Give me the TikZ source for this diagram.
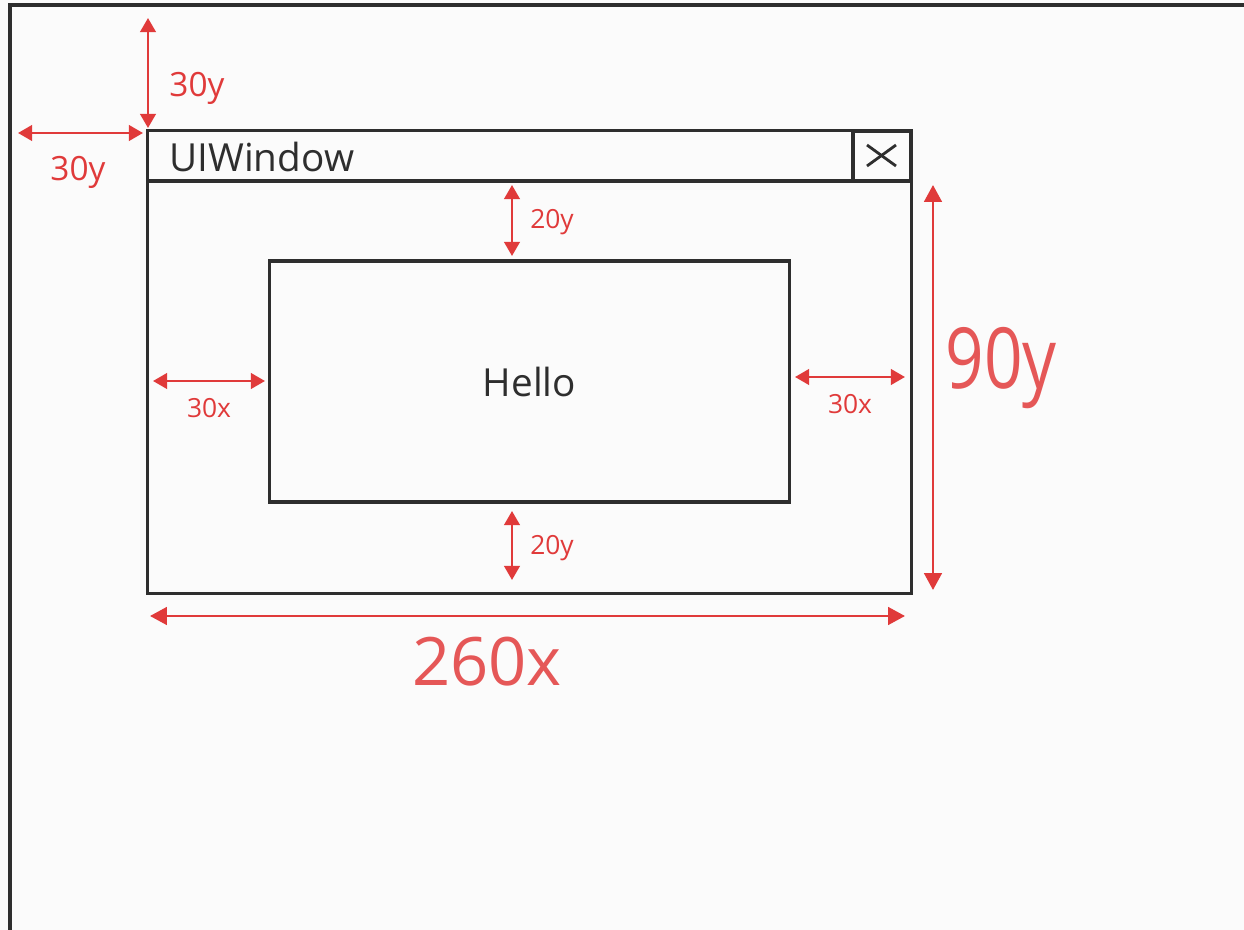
\documentclass[tikz,border=0pt]{standalone}
\usepackage{fontspec}
\setsansfont{Open Sans}
\usetikzlibrary{arrows.meta,positioning}
\definecolor{ink}{HTML}{2E2E2E}
\definecolor{pen}{HTML}{E03A3A}
\definecolor{paper}{HTML}{FBFBFB}
\tikzstyle{box} = [rectangle, draw=ink, line width=0.9pt, inner sep=0pt, outer sep=0pt]
\tikzstyle{dim} = [draw=pen, line width=0.75pt, {Triangle[length=4pt,width=4.4pt]}-{Triangle[length=4pt,width=4.4pt]}]
\tikzstyle{bigdim} = [draw=pen, line width=0.75pt, {Triangle[length=4.8pt,width=5pt]}-{Triangle[length=4.8pt,width=5pt]}]
\tikzstyle{note} = [text=pen, font=\sffamily\fontsize{9.5}{10}\selectfont, inner sep=0pt]
\tikzstyle{small} = [text=pen, font=\sffamily\fontsize{7.5}{8}\selectfont, inner sep=0pt]
\tikzstyle{big} = [text=pen!85, inner sep=0pt]

\begin{document}
\begin{tikzpicture}[x=0.01cm, y=-0.01cm]
  % Paper and its edges
  \fill [paper] (0,0) rectangle (1244,930);
  \useasboundingbox (0,0) rectangle (1244,930);
  \draw [ink, line width=0.9pt] (10,930) -- (10,5) -- (1244,5);

  % Place nodes
  \node [box, minimum width=7.63cm, minimum height=4.62cm] (win) at (529.5,362) {};
  \node [box, minimum width=0.58cm, minimum height=0.5cm] (close) at (882,156) {};
  \node [anchor=west, text=ink, font=\sffamily\fontsize{11}{12}\selectfont] (title) at (157,157) {UIWindow};
  \node [box, minimum width=5.19cm, minimum height=2.41cm,
         font=\sffamily\fontsize{11}{12}\selectfont, text=ink] (hello) at (529.5,381.5) {Hello};
  \coordinate (bar w) at (148,181);
  \coordinate (bar e) at (911,181);

  % Draw edges
  \draw [ink, line width=0.9pt] (bar w) -- (bar e);
  \draw [ink, line width=0.8pt] ([shift={(-15,-11)}]close.center) -- ([shift={(14,10)}]close.center);
  \draw [ink, line width=0.8pt] ([shift={(-15,10)}]close.center) -- ([shift={(14,-11)}]close.center);

  % Dimension ends
  \coordinate (up a) at (148,18);
  \coordinate (up b) at (148,128);
  \coordinate (side a) at (18,133);
  \coordinate (side b) at (143,133);
  \coordinate (gt a) at (512,185);
  \coordinate (gt b) at (512,256);
  \coordinate (gb a) at (512,511);
  \coordinate (gb b) at (512,580);
  \coordinate (gl a) at (153,381);
  \coordinate (gl b) at (265,381);
  \coordinate (gr a) at (795,377);
  \coordinate (gr b) at (905,377);
  \coordinate (h a) at (933,185);
  \coordinate (h b) at (933,590);
  \coordinate (w a) at (150,616);
  \coordinate (w b) at (905,616);

  % Draw dimensions
  \path [dim] (up a) -- (up b);
  \path [dim] (side a) -- (side b);
  \path [dim] (gt a) -- (gt b);
  \path [dim] (gb a) -- (gb b);
  \path [dim] (gl a) -- (gl b);
  \path [dim] (gr a) -- (gr b);
  \path [bigdim] (h a) -- (h b);
  \path [bigdim] (w a) -- (w b);

  % Comments
  \node [note] (c1) at (197,88) {30y};
  \node [note] (c2) at (78,172) {30y};
  \node [small] (c3) at (552,222) {20y};
  \node [small] (c4) at (552,548) {20y};
  \node [small] (c5) at (209,408) {30x};
  \node [small] (c6) at (850,404) {30x};
  \node [big, font=\sffamily\fontsize{24}{24}\selectfont, xscale=0.8] (c7) at (1001,368) {90y};
  \node [big, font=\sffamily\fontsize{19}{20}\selectfont] (c8) at (487,662) {260x};
\end{tikzpicture}
\end{document}
